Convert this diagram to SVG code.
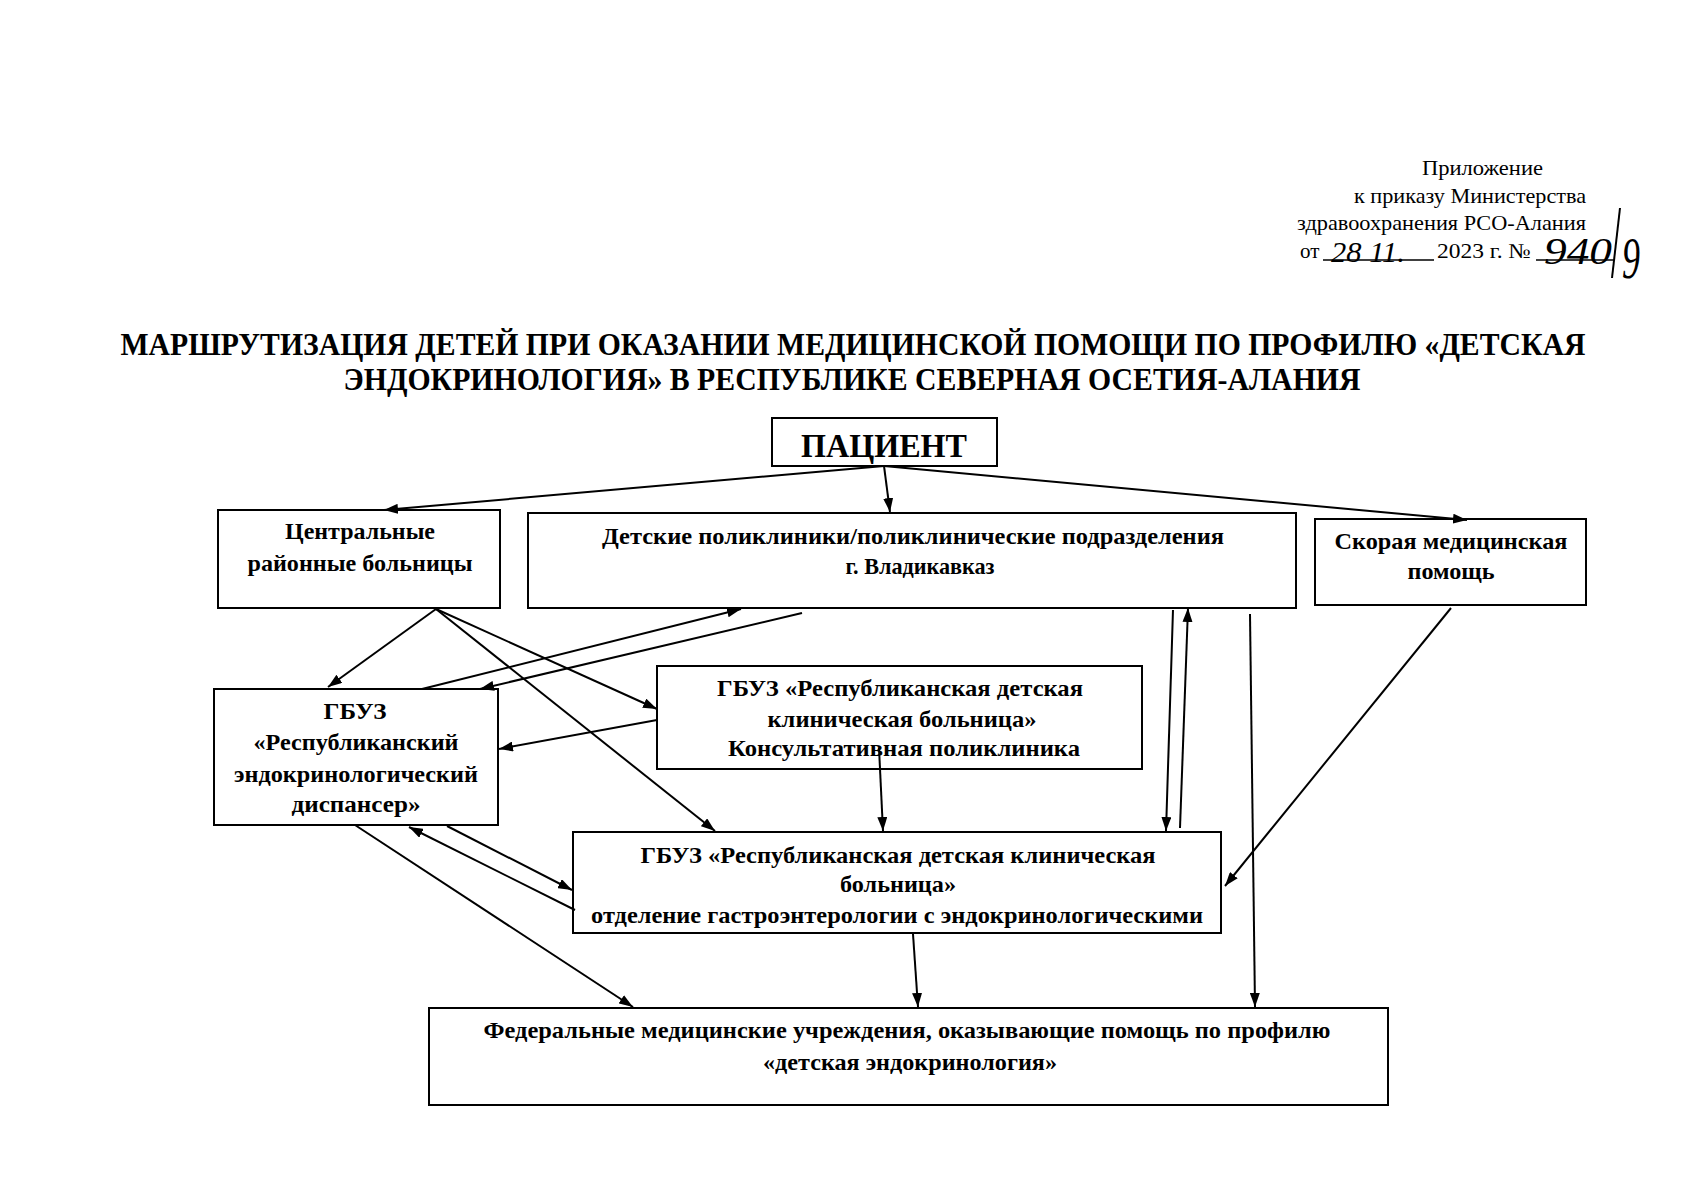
<svg xmlns="http://www.w3.org/2000/svg" width="1698" height="1200" viewBox="0 0 1698 1200">
<style>
.box{fill:#fff;stroke:#000;stroke-width:2}
.t{font-family:"Liberation Serif","Times New Roman",serif;font-weight:bold;font-size:24px;fill:#000;text-anchor:middle}
.hd{font-family:"Liberation Serif","Times New Roman",serif;font-size:21px;fill:#000}
.ttl{font-family:"Liberation Serif","Times New Roman",serif;font-weight:bold;font-size:32px;fill:#000;text-anchor:middle}
.hw{font-family:"Liberation Serif",serif;font-style:italic;fill:#000}
.c line{stroke:#000;stroke-width:2;fill:none}
</style>
<defs>
<marker id="ah" markerUnits="userSpaceOnUse" markerWidth="14" markerHeight="10" refX="14" refY="5" orient="auto">
<path d="M0,0 L14,5 L0,10 z" fill="#000"/>
</marker>
</defs>
<rect width="1698" height="1200" fill="#fff"/>

<g id="header">
<text class="hd" x="1422" y="175" textLength="121" lengthAdjust="spacingAndGlyphs">Приложение</text>
<text class="hd" x="1354" y="203" textLength="232" lengthAdjust="spacingAndGlyphs">к приказу Министерства</text>
<text class="hd" x="1297" y="230" textLength="289" lengthAdjust="spacingAndGlyphs">здравоохранения РСО-Алания</text>
<text class="hd" x="1300" y="258">от</text>
<line x1="1323" y1="260" x2="1434" y2="260" stroke="#000" stroke-width="1.5"/>
<text class="hw" x="1331" y="262" style="font-size:30px" textLength="74" lengthAdjust="spacingAndGlyphs">28 11.</text>
<text class="hd" x="1437" y="258" textLength="94" lengthAdjust="spacingAndGlyphs">2023 г. №</text>
<line x1="1536" y1="260" x2="1614" y2="260" stroke="#000" stroke-width="1.5"/>
<text class="hw" x="1544" y="264" style="font-size:38px" textLength="68" lengthAdjust="spacingAndGlyphs">940</text>
<line x1="1620" y1="208" x2="1612" y2="278" stroke="#000" stroke-width="2"/>
<text class="hw" x="1622" y="278" style="font-size:60px" textLength="18" lengthAdjust="spacingAndGlyphs">9</text>
</g>

<g id="title">
<text class="ttl" x="853" y="355" textLength="1465" lengthAdjust="spacingAndGlyphs">МАРШРУТИЗАЦИЯ ДЕТЕЙ ПРИ ОКАЗАНИИ МЕДИЦИНСКОЙ ПОМОЩИ ПО ПРОФИЛЮ «ДЕТСКАЯ</text>
<text class="ttl" x="852" y="390" textLength="1017" lengthAdjust="spacingAndGlyphs">ЭНДОКРИНОЛОГИЯ» В РЕСПУБЛИКЕ СЕВЕРНАЯ ОСЕТИЯ-АЛАНИЯ</text>
</g>

<g id="patient">
<rect class="box" x="772" y="418" width="225" height="48"/>
<text class="t" x="884" y="457" style="font-size:34px" textLength="166" lengthAdjust="spacingAndGlyphs">ПАЦИЕНТ</text>
</g>

<g id="crb">
<rect class="box" x="218" y="510" width="282" height="98"/>
<text class="t" x="360" y="539" textLength="150" lengthAdjust="spacingAndGlyphs">Центральные</text>
<text class="t" x="360" y="571" textLength="225" lengthAdjust="spacingAndGlyphs">районные больницы</text>
</g>

<g id="polyclinics">
<rect class="box" x="528" y="513" width="768" height="95"/>
<text class="t" x="913" y="544" textLength="622" lengthAdjust="spacingAndGlyphs">Детские поликлиники/поликлинические подразделения</text>
<text class="t" x="920" y="574" textLength="149" lengthAdjust="spacingAndGlyphs">г. Владикавказ</text>
</g>

<g id="ambulance">
<rect class="box" x="1315" y="519" width="271" height="86"/>
<text class="t" x="1451" y="549" textLength="233" lengthAdjust="spacingAndGlyphs">Скорая медицинская</text>
<text class="t" x="1451" y="579" textLength="87" lengthAdjust="spacingAndGlyphs">помощь</text>
</g>

<g id="dispensary">
<rect class="box" x="214" y="689" width="284" height="136"/>
<text class="t" x="355" y="719" textLength="63" lengthAdjust="spacingAndGlyphs">ГБУЗ</text>
<text class="t" x="356" y="750" textLength="205" lengthAdjust="spacingAndGlyphs">«Республиканский</text>
<text class="t" x="356" y="782" textLength="244" lengthAdjust="spacingAndGlyphs">эндокринологический</text>
<text class="t" x="356" y="812" textLength="129" lengthAdjust="spacingAndGlyphs">диспансер»</text>
</g>

<g id="consult">
<rect class="box" x="657" y="666" width="485" height="103"/>
<text class="t" x="900" y="696" textLength="366" lengthAdjust="spacingAndGlyphs">ГБУЗ «Республиканская детская</text>
<text class="t" x="902" y="727" textLength="269" lengthAdjust="spacingAndGlyphs">клиническая больница»</text>
<text class="t" x="904" y="756" textLength="352" lengthAdjust="spacingAndGlyphs">Консультативная поликлиника</text>
</g>

<g id="department">
<rect class="box" x="573" y="832" width="648" height="101"/>
<text class="t" x="898" y="863" textLength="515" lengthAdjust="spacingAndGlyphs">ГБУЗ «Республиканская детская клиническая</text>
<text class="t" x="898" y="892" textLength="116" lengthAdjust="spacingAndGlyphs">больница»</text>
<text class="t" x="897" y="923" textLength="612" lengthAdjust="spacingAndGlyphs">отделение гастроэнтерологии с эндокринологическими</text>
</g>

<g id="federal">
<rect class="box" x="429" y="1008" width="959" height="97"/>
<text class="t" x="907" y="1038" textLength="847" lengthAdjust="spacingAndGlyphs">Федеральные медицинские учреждения, оказывающие помощь по профилю</text>
<text class="t" x="910" y="1070" textLength="294" lengthAdjust="spacingAndGlyphs">«детская эндокринология»</text>
</g>

<g id="connectors" class="c">
<line x1="884" y1="466" x2="384" y2="510" marker-end="url(#ah)"/>
<line x1="884" y1="466" x2="890" y2="512" marker-end="url(#ah)"/>
<line x1="884" y1="466" x2="1467" y2="520" marker-end="url(#ah)"/>
<line x1="436" y1="609" x2="328" y2="687" marker-end="url(#ah)"/>
<line x1="436" y1="609" x2="657" y2="709" marker-end="url(#ah)"/>
<line x1="436" y1="609" x2="715" y2="831" marker-end="url(#ah)"/>
<line x1="422" y1="689" x2="741" y2="609" marker-end="url(#ah)"/>
<line x1="802" y1="613" x2="480" y2="689" marker-end="url(#ah)"/>
<line x1="657" y1="720" x2="499" y2="749" marker-end="url(#ah)"/>
<line x1="879" y1="748" x2="883" y2="831" marker-end="url(#ah)"/>
<line x1="1173" y1="610" x2="1166" y2="831" marker-end="url(#ah)"/>
<line x1="1180" y1="828" x2="1188" y2="608" marker-end="url(#ah)"/>
<line x1="1250" y1="614" x2="1255" y2="1007" marker-end="url(#ah)"/>
<line x1="1451" y1="608" x2="1225" y2="886" marker-end="url(#ah)"/>
<line x1="355" y1="825" x2="633" y2="1007" marker-end="url(#ah)"/>
<line x1="575" y1="910" x2="409" y2="827" marker-end="url(#ah)"/>
<line x1="447" y1="826" x2="572" y2="890" marker-end="url(#ah)"/>
<line x1="913" y1="934" x2="918" y2="1007" marker-end="url(#ah)"/>
</g>
</svg>
